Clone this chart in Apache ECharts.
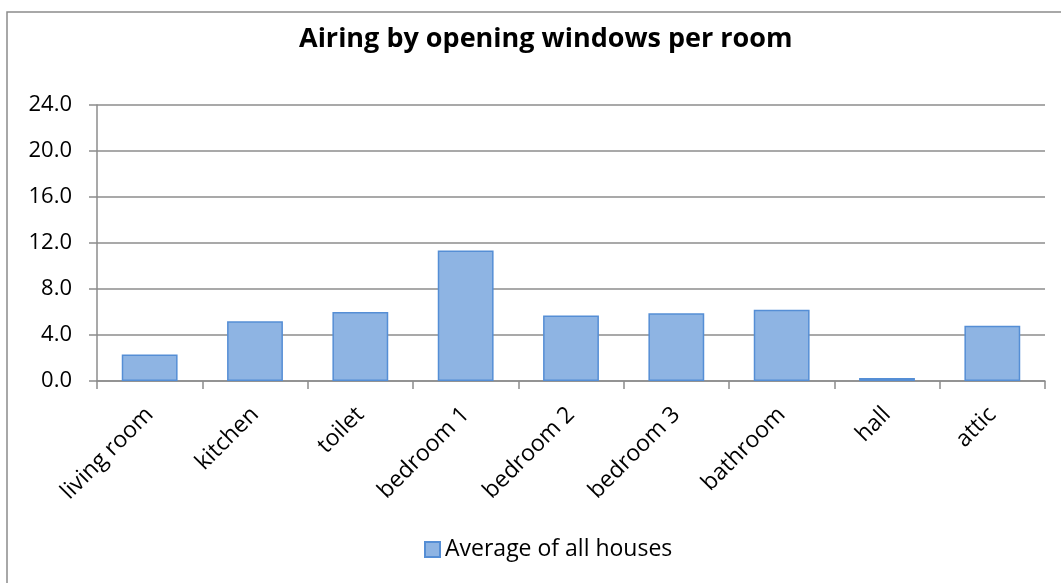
<!DOCTYPE html>
<html>
<head>
<meta charset="utf-8">
<script src="https://cdn.jsdelivr.net/npm/echarts@6/dist/echarts.min.js"></script>
<style>
  html, body { margin: 0; padding: 0; background: #fff; }
  #chart { width: 1061px; height: 583px; }
</style>
</head>
<body>
<div id="chart"></div>
<script>
// Rooms and average airing per room
const rooms = ['living room', 'kitchen', 'toilet', 'bedroom 1', 'bedroom 2', 'bedroom 3', 'bathroom', 'hall', 'attic'];
const averageValues = [2.3, 5.2, 6.0, 11.35, 5.7, 5.9, 6.2, 0.27, 4.8];
const seriesName = 'Average of all houses';
const titleText = 'Airing by opening windows per room';

const FONT = '"Open Sans", Lato, sans-serif';

const chart = echarts.init(document.getElementById('chart'), null, { renderer: 'canvas' });
chart.setOption({
  backgroundColor: '#ffffff',
  animation: false,
  graphic: [{
    type: 'rect',
    shape: { x: 7, y: 12, width: 1100, height: 620 },
    style: { fill: 'none', stroke: '#8c8c8c', lineWidth: 1.5 },
    silent: true
  }],
  title: {
    text: titleText,
    left: 294,
    top: 21,
    textStyle: { fontFamily: FONT, fontWeight: 'bold', fontSize: 27, color: '#000' }
  },
  legend: {
    data: [seriesName],
    bottom: 17,
    left: 419,
    itemWidth: 15,
    itemHeight: 15,
    itemGap: 8,
    icon: 'rect',
    textStyle: { fontFamily: FONT, fontSize: 23, color: '#000' }
  },
  grid: { left: 97, right: 16, top: 105, bottom: 202, containLabel: false },
  xAxis: {
    type: 'category',
    data: rooms,
    boundaryGap: true,
    axisLine: { lineStyle: { color: '#8c8c8c', width: 1.5 } },
    axisTick: { show: true, alignWithLabel: false, length: 8, lineStyle: { color: '#8c8c8c', width: 1.5 } },
    axisLabel: {
      rotate: 45,
      interval: 0,
      margin: 30,
      fontFamily: FONT,
      fontSize: 23,
      color: '#000'
    }
  },
  yAxis: {
    type: 'value',
    min: 0,
    max: 24,
    interval: 4,
    axisLine: { show: true, lineStyle: { color: '#8c8c8c', width: 1.5 } },
    axisTick: { show: true, length: 8, lineStyle: { color: '#8c8c8c', width: 1.5 } },
    splitLine: { lineStyle: { color: '#8c8c8c', width: 1.5 } },
    axisLabel: {
      margin: 25,
      fontFamily: FONT,
      fontSize: 22,
      color: '#000',
      formatter: v => v.toFixed(1)
    }
  },
  series: [{
    name: seriesName,
    type: 'bar',
    data: averageValues,
    barWidth: '53%',
    itemStyle: { color: '#8eb4e3', borderColor: '#558ed5', borderWidth: 1.5 }
  }]
});
</script>
</body>
</html>
